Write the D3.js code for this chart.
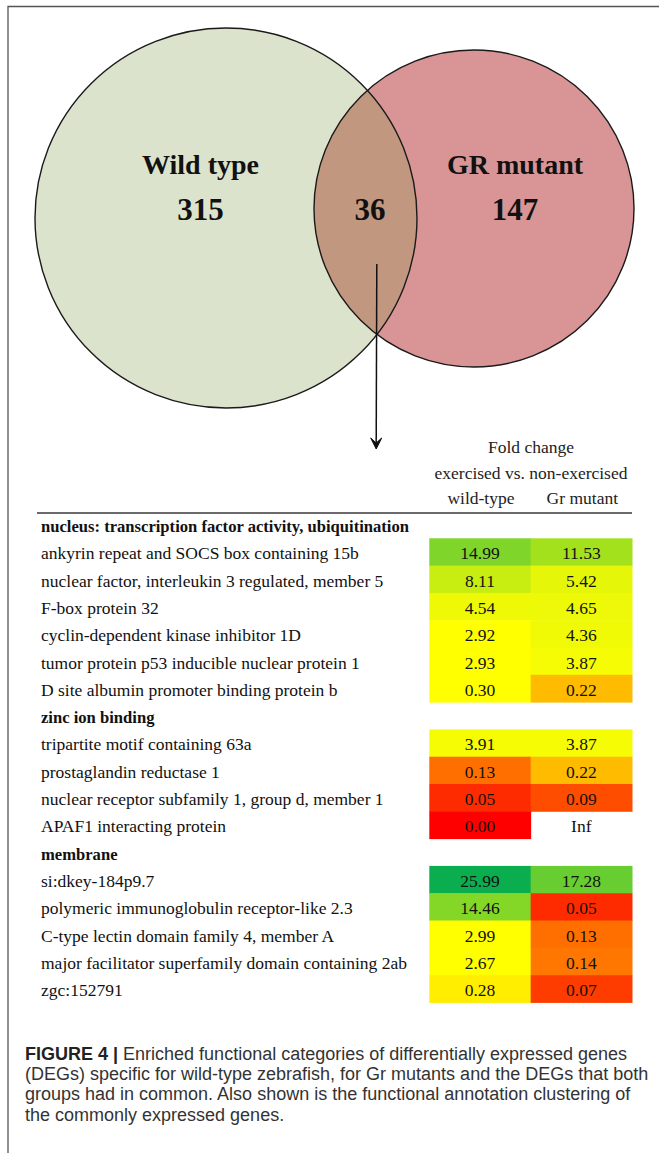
<!DOCTYPE html>
<html>
<head>
<meta charset="utf-8">
<script src="https://cdn.jsdelivr.net/npm/d3@7/dist/d3.min.js"></script>
<style>
  html, body { margin: 0; padding: 0; background: #fff; }
  svg { display: block; }
</style>
</head>
<body>
<svg id="fig" width="659" height="1153"></svg>
<script>
// ---- Venn diagram counts ----
const vennSets = ["Wild type", "GR mutant"];
const vennCounts = [315, 147];
const sharedCount = 36;

// ---- Fold change table ----
const headerLines = ["Fold change", "exercised vs. non-exercised"];
const columnLabels = ["wild-type", "Gr mutant"];
const categories = [
  "nucleus: transcription factor activity, ubiquitination",
  "zinc ion binding",
  "membrane"
];
const geneNames = [
  "ankyrin repeat and SOCS box containing 15b",
  "nuclear factor, interleukin 3 regulated, member 5",
  "F-box protein 32",
  "cyclin-dependent kinase inhibitor 1D",
  "tumor protein p53 inducible nuclear protein 1",
  "D site albumin promoter binding protein b",
  "tripartite motif containing 63a",
  "prostaglandin reductase 1",
  "nuclear receptor subfamily 1, group d, member 1",
  "APAF1 interacting protein",
  "si:dkey-184p9.7",
  "polymeric immunoglobulin receptor-like 2.3",
  "C-type lectin domain family 4, member A",
  "major facilitator superfamily domain containing 2ab",
  "zgc:152791"
];
const geneCategory = [0, 0, 0, 0, 0, 0, 1, 1, 1, 1, 2, 2, 2, 2, 2];
const wildType = [14.99, 8.11, 4.54, 2.92, 2.93, 0.30, 3.91, 0.13, 0.05, 0.00, 25.99, 14.46, 2.99, 2.67, 0.28];
const grMutant = [11.53, 5.42, 4.65, 4.36, 3.87, 0.22, 3.87, 0.22, 0.09, Infinity, 17.28, 0.05, 0.13, 0.14, 0.07];

// ---- Caption ----
const captionLead = "FIGURE 4 |";
const captionLines = [
  " Enriched functional categories of differentially expressed genes",
  "(DEGs) specific for wild-type zebrafish, for Gr mutants and the DEGs that both",
  "groups had in common. Also shown is the functional annotation clustering of",
  "the commonly expressed genes."
];

const svg = d3.select("#fig");
const serif = "'Liberation Serif', 'Times New Roman', serif";
const sans = "'Liberation Sans', Arial, Helvetica, sans-serif";

// frame (top and left edges)
svg.append("path")
  .attr("d", "M659,6.5 H8 V1153")
  .attr("fill", "none").attr("stroke", "#555").attr("stroke-width", 1.3);

// ---- Venn ----
const circles = [
  { cx: 226, cy: 218, rx: 191, ry: 190, fill: "#dce3cc" },
  { cx: 474, cy: 208.5, rx: 160, ry: 158.5, fill: "#d99596" }
];
const defs = svg.append("defs");
defs.append("clipPath").attr("id", "clipLeft")
  .append("ellipse")
  .attr("cx", circles[0].cx).attr("cy", circles[0].cy)
  .attr("rx", circles[0].rx).attr("ry", circles[0].ry);

const venn = svg.append("g");
venn.selectAll("ellipse.fill").data(circles).join("ellipse")
  .attr("class", "fill")
  .attr("cx", d => d.cx).attr("cy", d => d.cy)
  .attr("rx", d => d.rx).attr("ry", d => d.ry)
  .attr("fill", d => d.fill);
venn.append("ellipse")
  .attr("clip-path", "url(#clipLeft)")
  .attr("cx", circles[1].cx).attr("cy", circles[1].cy)
  .attr("rx", circles[1].rx).attr("ry", circles[1].ry)
  .attr("fill", "#c1977f");
venn.selectAll("ellipse.edge").data(circles).join("ellipse")
  .attr("class", "edge")
  .attr("cx", d => d.cx).attr("cy", d => d.cy)
  .attr("rx", d => d.rx).attr("ry", d => d.ry)
  .attr("fill", "none").attr("stroke", "#1a1a1a").attr("stroke-width", 1.4);

const vennText = [
  { x: 200.5, label: vennSets[0], count: vennCounts[0] },
  { x: 370, label: null, count: sharedCount },
  { x: 515, label: vennSets[1], count: vennCounts[1] }
];
venn.selectAll("text.set").data(vennText.filter(d => d.label)).join("text")
  .attr("class", "set")
  .attr("x", d => d.x).attr("y", 173.5)
  .attr("text-anchor", "middle")
  .attr("font-family", serif).attr("font-weight", "bold").attr("font-size", 28)
  .attr("fill", "#111")
  .text(d => d.label);
venn.selectAll("text.count").data(vennText).join("text")
  .attr("class", "count")
  .attr("x", d => d.x).attr("y", 220)
  .attr("text-anchor", "middle")
  .attr("font-family", serif).attr("font-weight", "bold").attr("font-size", 31)
  .attr("fill", "#111")
  .text(d => d.count);

// arrow from the overlap down to the table
svg.append("line")
  .attr("x1", 376.8).attr("y1", 264).attr("x2", 376.2).attr("y2", 446)
  .attr("stroke", "#111").attr("stroke-width", 1.5);
svg.append("path")
  .attr("d", "M370.7,438 L376.2,449 L381.7,438 L376.2,443 Z")
  .attr("fill", "#111").attr("stroke", "#111").attr("stroke-width", 1)
  .attr("stroke-linejoin", "round");

// ---- Table ----
// build rows: category headers interleaved with genes
const rows = [];
categories.forEach((c, ci) => {
  rows.push({ type: "cat", label: c });
  geneNames.forEach((g, gi) => {
    if (geneCategory[gi] === ci) rows.push({ type: "gene", label: g, values: [wildType[gi], grMutant[gi]] });
  });
});

const y = d3.scaleBand().domain(d3.range(rows.length)).range([511, 1002.4]).paddingInner(0).paddingOuter(0);
const x = d3.scaleBand().domain(columnLabels).range([429.3, 632]);
const color = d3.scaleLinear()
  .domain([0, 0.3, 2.95, 26])
  .range(["#ff0000", "#ffff00", "#ffff00", "#0aae4e"])
  .interpolate(d3.interpolateRgb)
  .clamp(true);
const fmt = d3.format(".2f");

const table = svg.append("g");

// column header
table.selectAll("text.hdr").data(headerLines).join("text")
  .attr("class", "hdr")
  .attr("x", 531).attr("y", (d, i) => 453 + i * 26)
  .attr("text-anchor", "middle")
  .attr("font-family", serif).attr("font-size", 17.5).attr("fill", "#222")
  .text(d => d);
table.selectAll("text.col").data(columnLabels).join("text")
  .attr("class", "col")
  .attr("x", d => x(d) + x.bandwidth() / 2 + 1).attr("y", 504)
  .attr("text-anchor", "middle")
  .attr("font-family", serif).attr("font-size", 17.5).attr("fill", "#222")
  .text(d => d);
table.append("line")
  .attr("x1", 37).attr("x2", 632).attr("y1", 513).attr("y2", 513)
  .attr("stroke", "#6a6a6a").attr("stroke-width", 1.8);

const rowG = table.selectAll("g.row").data(rows).join("g")
  .attr("class", "row")
  .attr("transform", (d, i) => `translate(0,${y(i)})`);

rowG.append("text")
  .attr("x", 41).attr("y", 21)
  .attr("font-family", serif)
  .attr("font-weight", d => d.type === "cat" ? "bold" : "normal")
  .attr("font-size", d => d.type === "cat" ? 16.6 : 17.5)
  .attr("fill", "#111")
  .text(d => d.label);

const cells = rowG.filter(d => d.type === "gene").selectAll("g.cell")
  .data(d => d.values.map((v, k) => ({ v, col: columnLabels[k] })))
  .join("g").attr("class", "cell");
cells.append("rect")
  .attr("x", d => x(d.col)).attr("y", 0)
  .attr("width", x.bandwidth() + 0.5).attr("height", y.bandwidth() + 0.5)
  .attr("fill", d => isFinite(d.v) ? color(d.v) : "none");
cells.append("text")
  .attr("x", d => x(d.col) + x.bandwidth() / 2).attr("y", 21)
  .attr("text-anchor", "middle")
  .attr("font-family", serif).attr("font-size", 17.5).attr("fill", "#111")
  .text(d => isFinite(d.v) ? fmt(d.v) : "Inf");

// ---- Caption ----
const cap = svg.append("text")
  .attr("font-family", sans).attr("font-size", 18).attr("fill", "#333");
cap.selectAll("tspan").data(captionLines).join("tspan")
  .attr("x", (d, i) => i === 0 ? null : 25)
  .attr("y", (d, i) => 1060 + i * 20.2)
  .text(d => d);
cap.insert("tspan", "tspan")
  .attr("x", 25).attr("y", 1060)
  .attr("font-weight", "bold").attr("fill", "#222")
  .text(captionLead);
</script>
</body>
</html>
